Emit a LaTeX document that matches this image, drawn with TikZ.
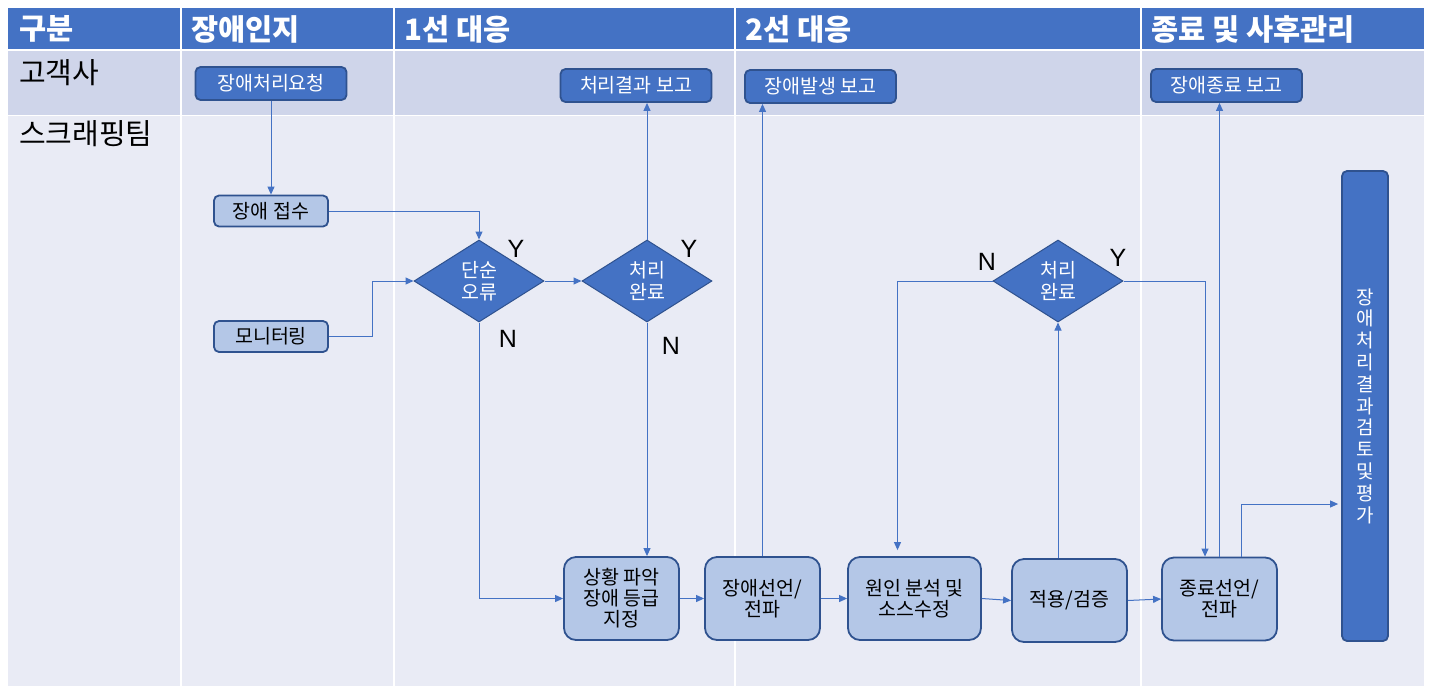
\documentclass[tikz,border=0pt]{standalone}
\usepackage{fontspec}
\setmainfont{Noto Sans CJK KR}
\newfontfamily\ynfont{Liberation Sans}
\usetikzlibrary{shapes.geometric, arrows.meta, positioning}
\definecolor{hdblue}{HTML}{4472C4}
\definecolor{custrow}{HTML}{CFD5EA}
\definecolor{teamrow}{HTML}{E9EBF5}
\definecolor{boxfill}{HTML}{B4C7E7}
\definecolor{boxline}{HTML}{2F528F}
\tikzset{
  lanehead/.style={anchor=west, inner sep=0pt, text=white, font=\fontsize{29.5}{32}\selectfont\bfseries},
  lanename/.style={anchor=west, inner sep=0pt, font=\fontsize{29}{32}\selectfont},
  report/.style={rectangle, rounded corners=5pt, minimum width=151pt, minimum height=33pt, inner sep=0pt, draw=boxline, line width=1.8pt, fill=hdblue, text=white, font=\fontsize{19.5}{21}\selectfont},
  smallbox/.style={rectangle, rounded corners=5pt, minimum width=114pt, minimum height=31pt, inner sep=0pt, draw=boxline, line width=1.8pt, fill=boxfill, font=\fontsize{19.5}{21}\selectfont},
  process/.style={rectangle, rounded corners=12pt, minimum width=115pt, minimum height=83pt, inner sep=0pt, align=center, draw=boxline, line width=1.8pt, fill=boxfill, font=\fontsize{19.5}{21}\selectfont},
  decision/.style={diamond, aspect=1.585, minimum width=130pt, minimum height=82pt, inner sep=0pt, align=center, draw=boxline, line width=1pt, fill=hdblue, text=white, font=\fontsize{19.5}{22}\selectfont},
  summary/.style={rectangle, rounded corners=5pt, minimum width=46pt, minimum height=470pt, inner sep=0pt, align=center, draw=boxline, line width=1.8pt, fill=hdblue, text=white, font=\fontsize{19}{21.8}\selectfont},
  yn/.style={inner sep=0pt, font=\fontsize{25}{25}\ynfont},
  arrow/.style={draw=hdblue, line width=1pt, -{Triangle[length=8pt, width=7pt]}}
}
\begin{document}
\begin{tikzpicture}[x=1pt, y=-1pt]
  \useasboundingbox [fill=white] (0,0) rectangle (1431,694);

  \fill [hdblue] (8,8) rectangle (1424,49);
  \fill [custrow] (8,51) rectangle (1424,114.5);
  \fill [teamrow] (8,115.5) rectangle (1424,686);
  \foreach \xcol in {181,394,735,1141}
    \draw [white, line width=2pt] (\xcol,8) -- (\xcol,686);

  \node (hgubun) [lanehead] at (19,29) {구분};
  \node (hdetect) [lanehead] at (191,29) {장애인지};
  \node (hfirst) [lanehead] at (404,29) {1선 대응};
  \node (hsecond) [lanehead] at (745,29) {2선 대응};
  \node (hclose) [lanehead] at (1151,29) {종료 및 사후관리};
  \node (lcust) [lanename] at (19,73) {고객사};
  \node (lteam) [lanename] at (19,134) {스크래핑팀};

  \node (request) [report] at (271,83.5) {장애처리요청};
  \node (rep1) [report] at (636,85.5) {처리결과 보고};
  \node (rep2) [report] at (820.5,86.5) {장애발생 보고};
  \node (rep3) [report] at (1226.5,85.5) {장애종료 보고};

  \node (receive) [smallbox] at (271,211) {장애 접수};
  \node (monitor) [smallbox] at (271,336.5) {모니터링};

  \node (simple) [decision] at (479,281) {단순\\오류};
  \node (done1) [decision] at (647,281) {처리\\완료};
  \node (done2) [decision] at (1058,281) {처리\\완료};

  \node (grasp) [process] at (621.5,598.5) {상황 파악\\장애 등급\\지정};
  \node (declare) [process] at (762.5,598.5) {장애선언/\\전파};
  \node (cause) [process, minimum width=133pt] at (914.5,598.5) {원인 분석 및\\소스수정};
  \node (apply) [process] at (1069.5,600.5) {적용/검증};
  \node (close) [process] at (1219.5,599) {종료선언/\\전파};

  \node (review) [summary] at (1365,406) {장\\애\\처\\리\\결\\과\\검\\토\\및\\평\\가};

  \node (y1) [yn] at (516,249) {Y};
  \node (n1) [yn] at (508,339) {N};
  \node (y2) [yn] at (689,249) {Y};
  \node (n2) [yn] at (671,346) {N};
  \node (n3) [yn] at (987,262) {N};
  \node (y3) [yn] at (1118,258) {Y};

  \draw [arrow] (request) -- (receive);
  \draw [arrow] (receive.east) -| (simple.north);
  \draw [arrow] (monitor.east) -- ++(44,0) |- (simple.west);
  \draw [arrow] (simple.east) -- (done1.west);
  \draw [arrow] (done1.north) -- (done1.north |- rep1.south);
  \draw [arrow] (simple.south) |- (grasp.west);
  \draw [arrow] (done1.south) -- (done1.south |- grasp.north);
  \draw [arrow] (grasp.east) -- (declare.west);
  \draw [arrow] (declare.north) -- (declare.north |- rep2.south);
  \draw [arrow] (declare.east) -- (cause.west);
  \draw [arrow] (done2.west) -| ([xshift=-17pt, yshift=6pt]cause.north);
  \draw [arrow] (cause.east) -- (apply.west);
  \draw [arrow] (apply.north -| done2.south) -- (done2.south);
  \draw [arrow] (done2.east) -| ([xshift=-14.5pt]close.north);
  \draw [arrow] (apply.east) -- (close.west);
  \draw [arrow] (close.north) -- (close.north |- rep3.south);
  \draw [arrow] ([xshift=21.5pt]close.north) |- ([yshift=-98pt, xshift=-3pt]review.west);

\end{tikzpicture}
\end{document}
